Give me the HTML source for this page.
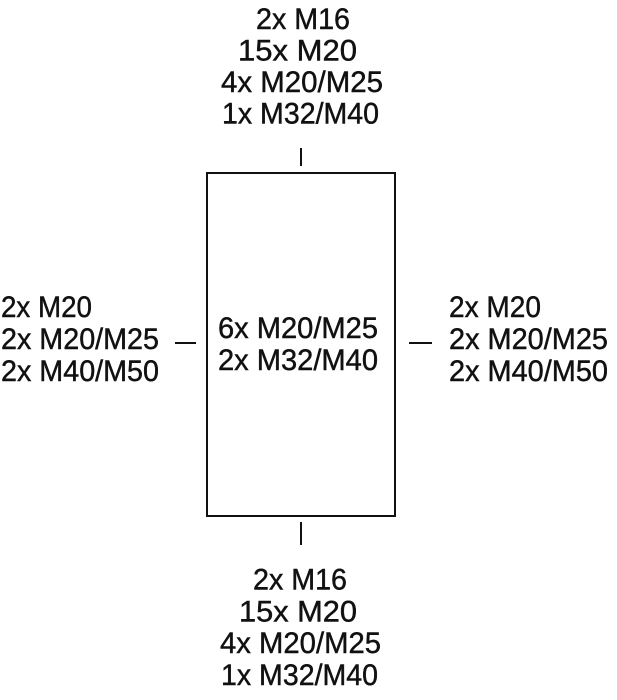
<!DOCTYPE html>
<html>
<head>
<meta charset="utf-8">
<style>
  html, body { margin: 0; padding: 0; background: #fff; }
  svg { display: block; }
  text { font-family: "Liberation Sans", sans-serif; font-size: 30px; fill: #111; stroke: #111; stroke-width: 0.45px; }
</style>
</head>
<body>
<svg width="617" height="700" viewBox="0 0 617 700" xmlns="http://www.w3.org/2000/svg">
  <!-- main box -->
  <rect x="207" y="173" width="188" height="343" fill="none" stroke="#111" stroke-width="2"/>

  <!-- ticks -->
  <line x1="301" y1="148" x2="301" y2="166" stroke="#111" stroke-width="2"/>
  <line x1="301" y1="522" x2="301" y2="545" stroke="#111" stroke-width="2"/>
  <line x1="175" y1="343" x2="196" y2="343" stroke="#111" stroke-width="2"/>
  <line x1="409" y1="343" x2="432" y2="343" stroke="#111" stroke-width="2"/>

  <!-- top block -->
  <text x="256" y="29" textLength="94" lengthAdjust="spacingAndGlyphs">2x M16</text>
  <text x="238" y="60.5" textLength="119" lengthAdjust="spacingAndGlyphs">15x M20</text>
  <text x="221" y="92" textLength="162" lengthAdjust="spacingAndGlyphs">4x M20/M25</text>
  <text x="222" y="123.5" textLength="157" lengthAdjust="spacingAndGlyphs">1x M32/M40</text>

  <!-- left block -->
  <text x="1" y="317" textLength="91" lengthAdjust="spacingAndGlyphs">2x M20</text>
  <text x="1" y="349" textLength="158" lengthAdjust="spacingAndGlyphs">2x M20/M25</text>
  <text x="1" y="381" textLength="158" lengthAdjust="spacingAndGlyphs">2x M40/M50</text>

  <!-- center block -->
  <text x="218" y="338" textLength="160" lengthAdjust="spacingAndGlyphs">6x M20/M25</text>
  <text x="218" y="370" textLength="160" lengthAdjust="spacingAndGlyphs">2x M32/M40</text>

  <!-- right block -->
  <text x="449" y="317" textLength="92" lengthAdjust="spacingAndGlyphs">2x M20</text>
  <text x="449" y="349" textLength="159" lengthAdjust="spacingAndGlyphs">2x M20/M25</text>
  <text x="449" y="381" textLength="159" lengthAdjust="spacingAndGlyphs">2x M40/M50</text>

  <!-- bottom block -->
  <text x="253" y="589.5" textLength="94" lengthAdjust="spacingAndGlyphs">2x M16</text>
  <text x="239" y="621.5" textLength="118" lengthAdjust="spacingAndGlyphs">15x M20</text>
  <text x="220" y="653" textLength="161" lengthAdjust="spacingAndGlyphs">4x M20/M25</text>
  <text x="221" y="685" textLength="157" lengthAdjust="spacingAndGlyphs">1x M32/M40</text>
</svg>
</body>
</html>
